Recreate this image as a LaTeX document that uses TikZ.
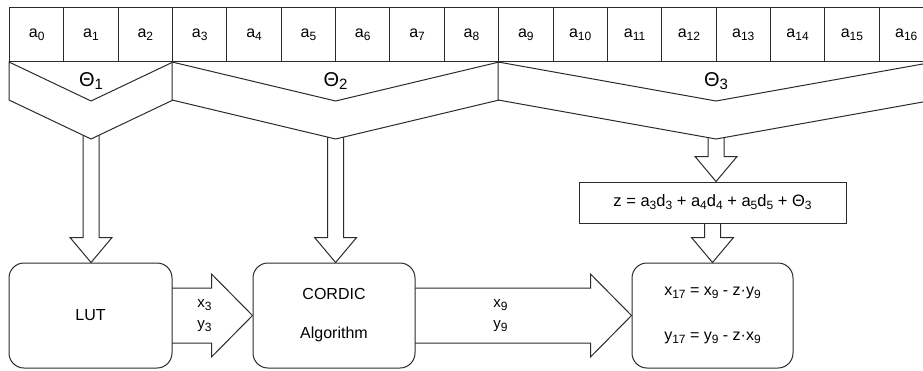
\documentclass[tikz,border=0pt]{standalone}
\usepackage{fontspec}
\setmainfont{Liberation Sans}
\usetikzlibrary{calc}
\pgfdeclarelayer{background}
\pgfsetlayers{background,main}

\definecolor{linegray}{HTML}{2B2B2B}
\newcommand{\lowsub}[2][12]{\raisebox{-0.35ex}{\fontsize{#1}{#1}\selectfont #2}}

% hollow block arrows: start, end
\newcommand{\hollowdown}[2]{%
  \draw[hollow] let \p1=(#1), \p2=(#2) in
    (\x1-8pt,\y1+10pt) -- (\x1-8pt,\y2+25pt) -- (\x1-21pt,\y2+25pt) -- (\x1,\y2)
    -- (\x1+21pt,\y2+25pt) -- (\x1+8pt,\y2+25pt) -- (\x1+8pt,\y1+10pt);}
\newcommand{\hollowright}[2]{%
  \draw[hollow] let \p1=(#1), \p2=(#2) in
    (\x1-10pt,\y1+27.5pt) -- (\x2-41pt,\y1+27.5pt) -- (\x2-41pt,\y1+41.5pt) -- (\x2,\y1)
    -- (\x2-41pt,\y1-41.5pt) -- (\x2-41pt,\y1-27.5pt) -- (\x1-10pt,\y1-27.5pt);}

\tikzset{
  cell/.style={draw=linegray, fill=white, anchor=north west, minimum width=54.35pt,
    minimum height=54pt, inner sep=0pt, font=\fontsize{16}{16}\selectfont},
  chevron/.style={draw=linegray, fill=white, line join=miter},
  hollow/.style={draw=linegray, fill=white, line width=1pt, line join=miter},
  block/.style={draw=linegray, fill=white, rounded corners=15pt, minimum width=162pt,
    minimum height=105pt, align=center, font=\fontsize{16}{19}\selectfont},
  formula/.style={draw=linegray, fill=white, minimum width=267pt, minimum height=41pt,
    inner sep=0pt, font=\fontsize{16.5}{19}\selectfont},
  theta/.style={font=\fontsize{20}{20}\selectfont},
  wires/.style={align=left, font=\fontsize{15}{21}\selectfont},
}

\begin{document}
\begin{tikzpicture}[x=1pt, y=-1pt, line width=1pt]
    \useasboundingbox (0,0) rectangle (923,370);
    \clip (0,0) rectangle (923,370);

    % register bits
    \foreach \i in {0,...,16}
        \node[cell] (a\i) at ({9+54.35*\i},7) {a\lowsub{\i}};

    % tips of the three angle groups
    \coordinate (v1) at ($(a0.south west)!0.5!(a2.south east)+(0,77)$);
    \coordinate (v2) at ($(a3.south west)!0.5!(a8.south east)+(0,77)$);
    \coordinate (v3) at ($(a9.south west)!0.5!(a16.south east)+(0,77)$);

    \draw[chevron] (a0.south west) -- ($(v1)+(0,-38)$) -- (a2.south east) -- ($(a2.south east)+(0,38)$)
        -- (v1) -- ($(a0.south west)+(0,38)$) -- cycle;
    \draw[chevron] (a3.south west) -- ($(v2)+(0,-38)$) -- (a8.south east) -- ($(a8.south east)+(0,38)$)
        -- (v2) -- ($(a3.south west)+(0,38)$) -- cycle;
    \draw[chevron] (a9.south west) -- ($(v3)+(0,-38)$) -- (a16.south east) -- ($(a16.south east)+(0,38)$)
        -- (v3) -- ($(a9.south west)+(0,38)$) -- cycle;

    \node[theta] (t1) at ($(a0.south west)!0.5!(a2.south east)+(0,19)$) {Θ\lowsub[15]{1}};
    \node[theta] (t2) at ($(a3.south west)!0.5!(a8.south east)+(0,19)$) {Θ\lowsub[15]{2}};
    \node[theta] (t3) at ($(a9.south west)!0.5!(a16.south east)+(0,19)$) {Θ\lowsub[15]{3}};

    % processing blocks
    \node[block, minimum width=163pt] (lut) at (90.5,315.5) {LUT};
    \node[block] (cordic) at (334,315.5) {CORDIC\\[20pt]Algorithm};
    \node[block, minimum width=161pt] (rot) at (712.5,315.5)
        {x\lowsub{17} = x\lowsub{9} - z·y\lowsub{9}\\[26pt]y\lowsub{17} = y\lowsub{9} - z·x\lowsub{9}};
    \node[formula] (zsum) at (712.5,202.5)
        {z = a\lowsub{3}d\lowsub{3} + a\lowsub{4}d\lowsub{4} + a\lowsub{5}d\lowsub{5} + Θ\lowsub{3}};

    \begin{pgfonlayer}{background}
        \hollowdown{v1}{lut.north}
        \hollowdown{v2}{cordic.north}
        \hollowdown{v3}{zsum.north}
        \hollowdown{zsum.south}{rot.north}
        \hollowright{lut.east}{cordic.west}
        \hollowright{cordic.east}{rot.west}
    \end{pgfonlayer}

    \node[wires] (xy3) at ($(lut.east)+(32,0)$) {x\lowsub{3}\\y\lowsub{3}};
    \node[wires] (xy9) at ($(cordic.east)+(85,0)$) {x\lowsub{9}\\y\lowsub{9}};
\end{tikzpicture}
\end{document}
